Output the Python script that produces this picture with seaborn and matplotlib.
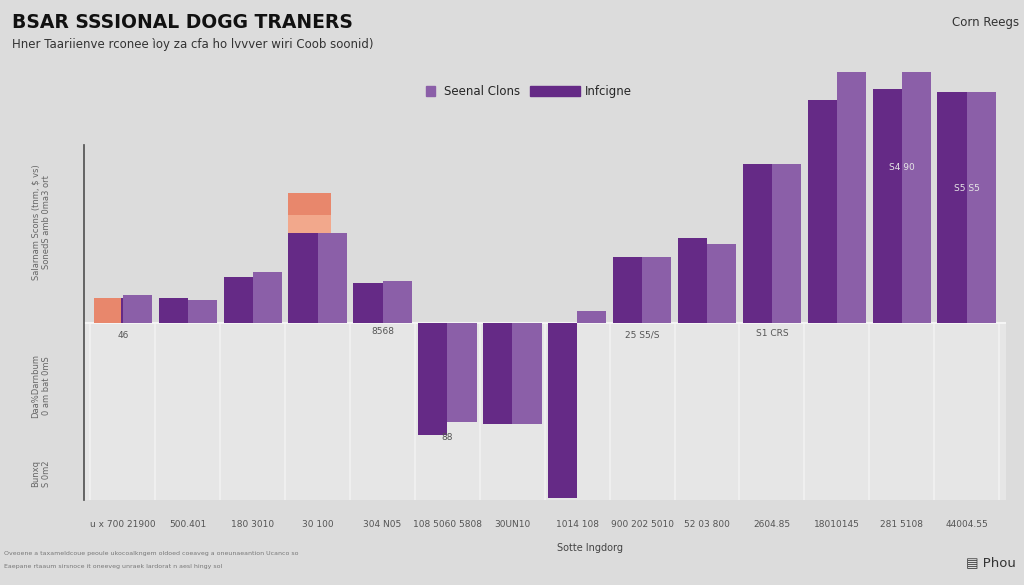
import matplotlib
matplotlib.use("Agg")
import matplotlib.pyplot as plt
import seaborn as sns
import pandas as pd
from matplotlib.patches import Patch

categories = ["u x 700 21900", "500.401", "180 3010", "30 100", "304 N05",
              "108 5060 5808", "30UN10", "1014 108", "900 202 5010", "52 03 800",
              "2604.85", "18010145", "281 5108", "44004.55"]
infcigne = [2.5, 2.5, 4.6, 9.8, 4.0, -11.2, -10.1, -17.5, 6.6, 8.5, 15.9, 22.3, 23.4, 23.1]
seenal = [2.8, 2.3, 5.1, 9.0, 4.2, -9.9, -10.1, 1.2, 6.6, 7.9, 15.9, 25.1, 25.1, 23.1]
orange_vals = [2.5, 0, 0, 4.0, 0, 0, 0, 0, 0, 0, 0, 0, 0, 0]
orange_base = [0, 0, 0, 9.0, 0, 0, 0, 0, 0, 0, 0, 0, 0, 0]
notes = {0: "46", 4: "8568", 5: "88", 8: "25 S5/S", 10: "S1 CRS", 12: "S4 90", 13: "S5 S5"}
note_y = {0: -1.2, 4: -0.8, 5: -11.4, 8: -1.2, 10: -1.0, 12: 15.5, 13: 13.5}

DARK = "#652a86"
LIGHT = "#8b5fa8"
BG = "#dcdcdc"

sns.set_theme(style="white")
plt.rcParams["font.family"] = ["DejaVu Sans"]

df = pd.DataFrame({
    "cat": categories * 2,
    "val": infcigne + seenal,
    "serie": ["Infcigne"] * len(categories) + ["Seenal Clons"] * len(categories),
})

fig = plt.figure(figsize=(10.24, 5.85), dpi=100, facecolor=BG)
ax = fig.add_axes([0.082, 0.145, 0.9, 0.744])
ax.set_facecolor(BG)
ax.axhspan(-17.7, 0, color="#e6e6e6", zorder=0)
for i in range(len(categories) + 1):
    ax.axvline(i - 0.5, ymin=0, ymax=17.7 / 43.5, color="#f2f2f2", lw=1.2, zorder=0.5)

sns.barplot(data=df, x="cat", y="val", hue="serie", order=categories,
            hue_order=["Infcigne", "Seenal Clons"],
            palette={"Infcigne": DARK, "Seenal Clons": LIGHT},
            width=0.9, saturation=1, legend=False, ax=ax, zorder=2,
            linewidth=0, edgecolor="none")

xs = list(range(len(categories)))
ax.bar([x - 0.45 for x in xs], orange_vals, bottom=orange_base, width=0.42,
       color=["#e8876c"] * len(xs), zorder=3, align="edge", linewidth=0)
ax.bar([3 - 0.45], [1.8], bottom=[9.0], width=0.65, color="#f2a88c", zorder=3, align="edge", linewidth=0)
ax.bar([3 - 0.45], [2.2], bottom=[10.8], width=0.65, color="#e8876c", zorder=3, align="edge", linewidth=0)

ax.axhline(0, color="#f5f5f5", lw=1.5, zorder=1)
for i, t in notes.items():
    col = "#e6e6e6" if note_y[i] > 5 else "#555555"
    ax.text(i, note_y[i], t, ha="center", va="center", fontsize=6.5, color=col, zorder=4)

ax.set_ylim(-17.7, 25.8)
ax.set_xlim(-0.6, len(categories) - 0.4)
ax.set_xlabel("")
ax.set_ylabel("")
ax.set_yticks([])
ax.tick_params(axis="x", length=0, pad=14, labelsize=6.5, labelcolor="#555555")
for s in ["top", "right", "bottom"]:
    ax.spines[s].set_visible(False)
ax.spines["left"].set_color("#555555")
ax.spines["left"].set_bounds(-17.7, 17.8)

fig.text(0.012, 0.962, "BSAR SSSIONAL DOGG TRANERS", fontsize=13.5, fontweight="bold",
         color="#111111", va="center")
fig.text(0.012, 0.924, "Hner Taariienve rconee ìoy za cfa ho lvvver wiri Coob soonid)",
         fontsize=8.5, color="#333333", va="center")
fig.text(0.93, 0.962, "Corn Reegs", fontsize=8.5, color="#333333", va="center")

fig.legend(handles=[Patch(color=LIGHT, label="Seenal Clons")], loc="center left",
           bbox_to_anchor=(0.416, 0.844), frameon=False, fontsize=8.5,
           handlelength=0.8, handleheight=0.9, borderpad=0, borderaxespad=0,
           handletextpad=0.7)
fig.legend(handles=[Patch(color=DARK, label="Infcigne")], loc="center left",
           bbox_to_anchor=(0.518, 0.844), frameon=False, fontsize=8.5,
           handlelength=4.2, handleheight=0.9, borderpad=0, borderaxespad=0,
           handletextpad=0.4)

fig.text(0.04, 0.62, "Salarnam Scons (tnm, $ vs)\nSonedS amb 0ma3 ort", rotation=90,
         fontsize=6, color="#666666", ha="center", va="center")
fig.text(0.04, 0.34, "Daa%Darnbum\n0 am bat 0mS", rotation=90,
         fontsize=6, color="#666666", ha="center", va="center")
fig.text(0.04, 0.19, "Bunxq\nS 0m2", rotation=90,
         fontsize=6, color="#666666", ha="center", va="center")

fig.text(0.576, 0.063, "Sotte lngdorg", fontsize=7, color="#444444", ha="center", va="center")
fig.text(0.004, 0.053, "Oveoene a taxameldcoue peoule ukocoalkngem oldoed coeaveg a oneunaeantion Ucanco so",
         fontsize=4.5, color="#777777", va="center")
fig.text(0.004, 0.031, "Eaepane rtaaum sirsnoce it oneeveg unraek lardorat n aesl hingy sol",
         fontsize=4.5, color="#777777", va="center")
fig.text(0.943, 0.038, "\u25A4 Phou", fontsize=9.5, color="#333333", va="center")

plt.savefig("out.png", dpi=100, facecolor=BG)
plt.close()
